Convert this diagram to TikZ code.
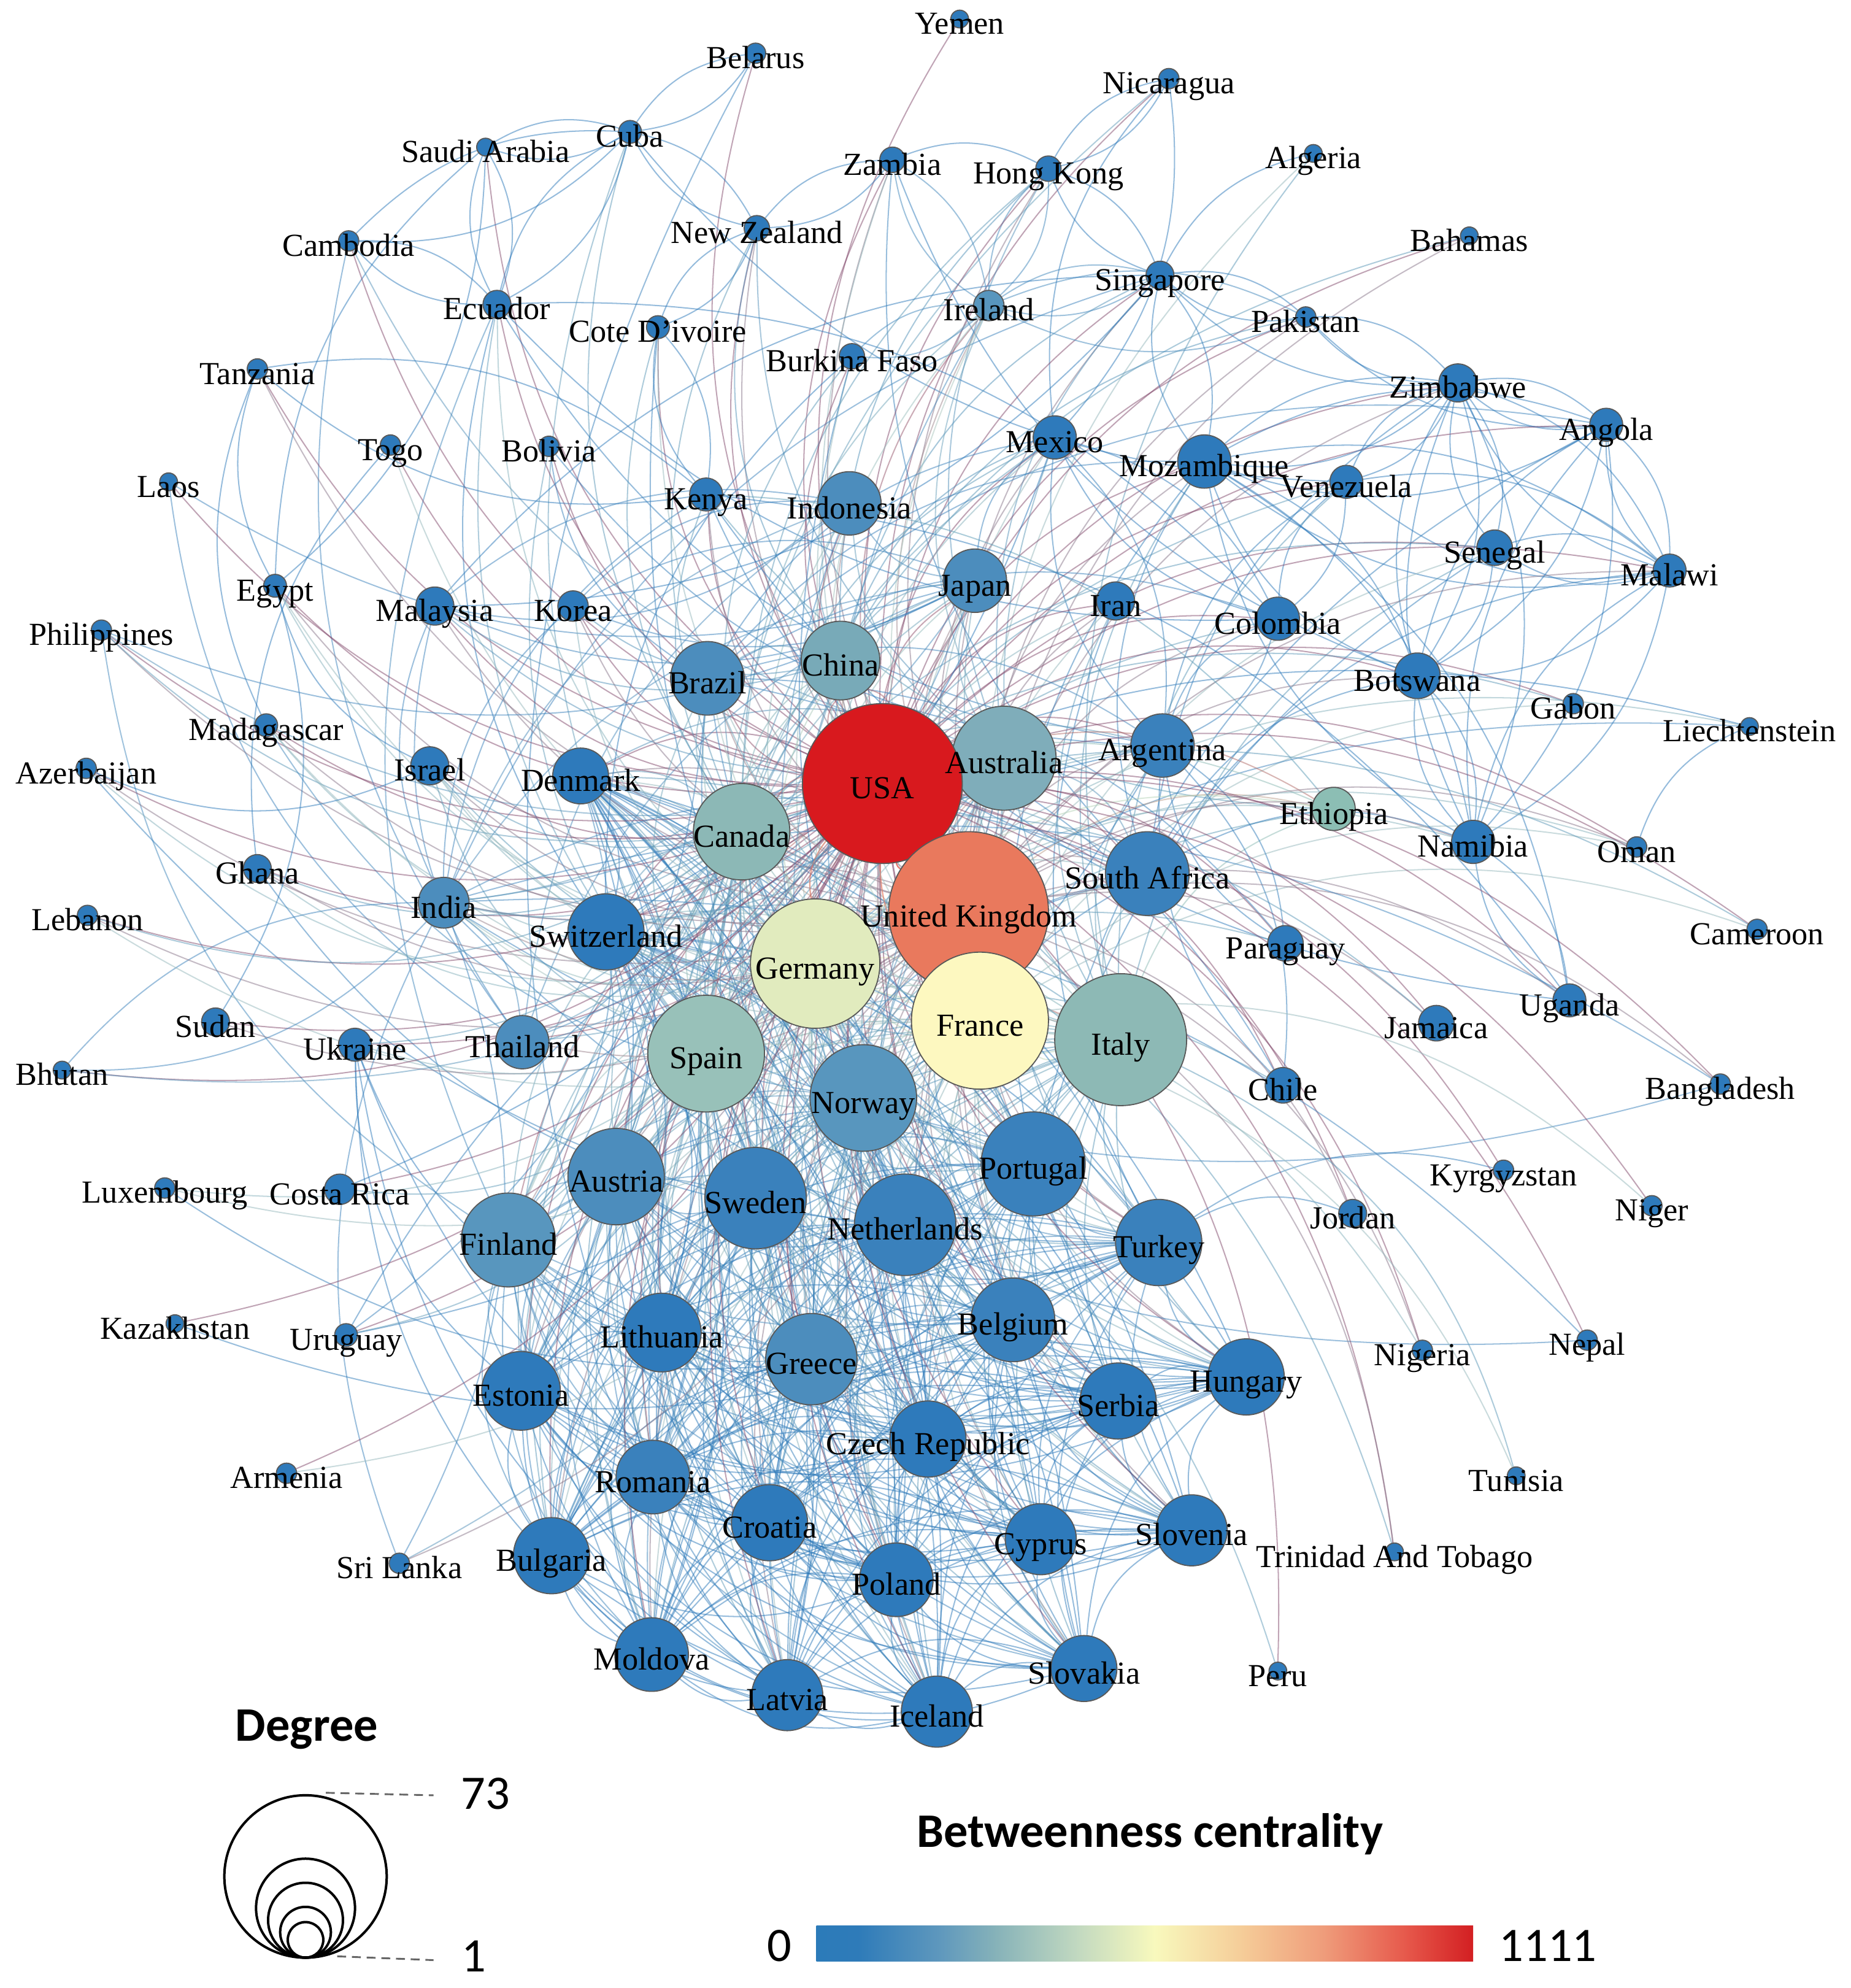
\documentclass[tikz,border=0pt]{standalone}
\usepackage{fontspec}
\setmainfont{Liberation Serif}
\newfontfamily\calfont{Carlito}
\pgfdeclarelayer{bg}\pgfdeclarelayer{edges}
\pgfsetlayers{bg,edges,main}
\definecolor{cb}{RGB}{46,122,187}
\definecolor{cb2}{RGB}{58,129,188}
\definecolor{cb3}{RGB}{76,141,189}
\definecolor{cb4}{RGB}{88,150,190}
\definecolor{cusa}{RGB}{216,25,30}
\definecolor{cuk}{RGB}{233,121,93}
\definecolor{cfra}{RGB}{253,248,192}
\definecolor{cger}{RGB}{225,235,190}
\definecolor{caus}{RGB}{127,173,186}
\definecolor{ccan}{RGB}{140,184,182}
\definecolor{cita}{RGB}{141,185,181}
\definecolor{cspa}{RGB}{152,193,185}
\definecolor{cchn}{RGB}{120,170,184}
\definecolor{ceth}{RGB}{140,190,180}
\newcommand\myedge[2]{\edef\myedgecol{\csname nc@#1\endcsname!50!\csname nc@#2\endcsname}\draw[lnk,draw=\myedgecol] (#1) to (#2);}
\def\nodelist{yem/757/15/7/cb/Yemen,blr/596/42/8/cb/Belarus,nic/922/62/8/cb/Nicaragua,sau/383/116/7/cb/Saudi Arabia,cub/497/104/9/cb/Cuba,zam/704/126/10/cb/Zambia,hkg/827/133/10/cb/Hong Kong,alg/1036/121/7/cb/Algeria,khm/275/190/8/cb/Cambodia,nzl/597/180/10/cb/New Zealand,bah/1159/186/7/cb/Bahamas,ecu/392/240/11/cb/Ecuador,sgp/915/217/11/cb/Singapore,civ/519/258/9/cb/Cote D'ivoire,irl/780/241/12/cb4/Ireland,pak/1030/250/8/cb/Pakistan,bfa/672/281/10/cb/Burkina Faso,tza/203/291/8/cb/Tanzania,zwe/1150/302/15/cb/Zimbabwe,ago/1267/335/13/cb/Angola,tgo/308/351/8/cb/Togo,bol/433/352/8/cb/Bolivia,mex/832/345/17/cb/Mexico,moz/950/364/21/cb/Mozambique,ven/1062/380/13/cb/Venezuela,lao/133/380/7/cb/Laos,ken/557/390/13/cb/Kenya,idn/670/397/25/cb3/Indonesia,sen/1179/432/14/cb/Senegal,mwi/1317/450/13/cb/Malawi,jpn/769/458/25/cb3/Japan,irn/880/474/15/cb/Iran,egy/217/462/9/cb/Egypt,mys/343/478/15/cb/Malaysia,kor/452/478/12/cb/Korea,col/1008/488/17/cb/Colombia,phl/80/497/8/cb/Philippines,chn/663/521/31/cchn/China,bra/558/535/29/cb3/Brazil,bwa/1118/533/18/cb/Botswana,gab/1241/555/8/cb/Gabon,lie/1380/573/7/cb/Liechtenstein,mdg/210/572/9/cb/Madagascar,aze/68/606/8/cb/Azerbaijan,isr/339/604/15/cb/Israel,dnk/458/612/22/cb/Denmark,aus/792/598/41/caus/Australia,arg/917/588/25/cb2/Argentina,eth/1052/638/17/ceth/Ethiopia,can/585/656/38/ccan/Canada,nam/1162/664/17/cb/Namibia,omn/1291/668/8/cb/Oman,gha/203/685/11/cb/Ghana,zaf/905/689/33/cb2/South Africa,ind/350/712/20/cb3/India,lbn/69/722/8/cb/Lebanon,usa/696/618/63/cusa/USA,gbr/764/719/63/cuk/United Kingdom,che/478/735/30/cb/Switzerland,cmr/1386/733/8/cb/Cameroon,deu/643/760/51/cger/Germany,pry/1014/744/14/cb/Paraguay,fra/773/805/54/cfra/France,ita/884/820/52/cita/Italy,uga/1238/789/13/cb/Uganda,sdn/170/806/11/cb/Sudan,ukr/280/824/13/cb/Ukraine,tha/412/822/21/cb3/Thailand,esp/557/831/46/cspa/Spain,jam/1133/807/14/cb/Jamaica,nor/681/866/42/cb4/Norway,chl/1012/856/14/cb/Chile,btn/49/844/7/cb/Bhutan,bgd/1357/855/8/cb/Bangladesh,prt/815/918/41/cb2/Portugal,aut/486/928/38/cb3/Austria,swe/596/945/40/cb2/Sweden,kgz/1186/923/8/cb/Kyrgyzstan,lux/130/937/8/cb/Luxembourg,cri/268/938/12/cb/Costa Rica,nld/714/966/40/cb2/Netherlands,jor/1067/957/11/cb/Jordan,ner/1303/951/8/cb/Niger,fin/401/978/37/cb4/Finland,tur/914/980/34/cb2/Turkey,kaz/138/1044/7/cb/Kazakhstan,ury/273/1053/9/cb/Uruguay,ltu/522/1051/31/cb/Lithuania,bgm/799/1041/33/cb2/Belgium,grc/640/1072/36/cb3/Greece,nga/1122/1065/8/cb/Nigeria,npl/1252/1057/8/cb/Nepal,est/411/1097/31/cb/Estonia,hun/983/1086/30/cb/Hungary,srb/882/1105/30/cb/Serbia,cze/732/1135/30/cb/Czech Republic,tun/1196/1164/7/cb/Tunisia,arm/226/1162/8/cb/Armenia,rou/515/1165/29/cb2/Romania,hrv/607/1201/30/cb/Croatia,cyp/821/1214/28/cb/Cyprus,svn/940/1207/28/cb/Slovenia,tto/1100/1224/7/cb/Trinidad And Tobago,lka/315/1233/8/cb/Sri Lanka,bgr/435/1227/30/cb/Bulgaria,pol/707/1246/29/cb/Poland,mda/514/1305/29/cb/Moldova,svk/855/1316/26/cb/Slovakia,per/1008/1318/7/cb/Peru,lva/621/1337/28/cb/Latvia,isl/739/1350/28/cb/Iceland}
\def\Elist{gbr,fra,deu,ita,esp,nor,prt,aut,swe,nld,fin,tur,ltu,bgm,grc,est,hun,srb,cze,rou,hrv,cyp,svn,bgr,pol,mda,svk,lva,isl,che,dnk}
\def\Alist{gbr,fra,deu,ita,esp,nor,swe,nld,fin,prt,aut,bgm,grc,pol,cze,isl,che,dnk,tur,hun}
\tikzset{
  nd/.style={circle,draw=black!65,line width=0.25pt,inner sep=0pt,outer sep=0pt},
  lbl/.style={font=\fontsize{7.2}{8}\selectfont,inner sep=0pt,anchor=base,text=black},
  lnk/.style={line width=0.28pt,draw opacity=0.5,bend right=24},
  legcirc/.style={circle,draw=black,line width=0.55pt,inner sep=0pt,outer sep=0pt},
  legtxt/.style={font=\calfont\fontsize{10.8}{12}\selectfont,inner sep=0pt,anchor=base},
  legbold/.style={font=\calfont\bfseries\fontsize{10.8}{12}\selectfont,inner sep=0pt,anchor=base},
  legdash/.style={draw=black!60,line width=0.4pt,dash pattern=on 2pt off 1.3pt}
}
\begin{document}
\begin{tikzpicture}[x=0.01cm,y=-0.01cm]
\begin{pgfonlayer}{bg}
\fill[white] (0,0) rectangle (1460,1568);
\end{pgfonlayer}
\useasboundingbox (0,0) rectangle (1460,1568);
% nodes
\foreach \n/\x/\y/\r/\c/\t in \nodelist {
  \node[nd,minimum size=\r*0.02cm,fill=\c] (\n) at (\x,\y) {};
  \expandafter\xdef\csname nc@\n\endcsname{\c}
}
% edges
\begin{pgfonlayer}{edges}
\foreach \a [count=\i] in \Elist {
  \foreach \b [count=\j] in \Elist {
    \ifnum\j>\i \myedge{\a}{\b}\fi
  }
}
\foreach \b in \Elist {\myedge{usa}{\b}\myedge{can}{\b}}
\foreach \b in \Alist {\myedge{aus}{\b}}
\foreach \a/\L in {yem/{usa},blr/{cub,usa,rou},nic/{hkg,usa,mex,esp},sau/{cub,ecu,egy,usa},
  cub/{blr,sau,khm,ecu,nzl,esp,can,ven},zam/{nzl,usa,gbr,irl,zaf,bwa,fra},
  hkg/{zam,irl,usa,gbr,chn,aus,sgp,nic,can},alg/{fra,ita,sgp},khm/{cub,ecu,tha,usa,aus},
  nzl/{zam,cub,civ,usa,gbr,aus,can,chn},bah/{usa,gbr,can},
  ecu/{cub,sau,khm,usa,esp,col,arg,deu,che,fin},sgp/{hkg,irl,usa,gbr,aus,chn,ind,mys,pak,moz,zwe},
  civ/{nzl,usa,fra,can,bgm,ken},irl/{zam,hkg,sgp,usa,gbr,aus,can,fra,deu,nld,pak,bfa},
  pak/{sgp,irl,usa,gbr,chn,zwe,ago},bfa/{usa,fra,can,bgm,che,irl},tza/{usa,gbr,ken,egy,mdg},
  zwe/{ago,moz,bwa,sen,nam,mwi,zaf,usa,gbr,ven,pak},ago/{zwe,mwi,nam,bwa,moz,bra,prt,usa},
  tgo/{fra,usa,gha},bol/{usa,esp,arg,bra},mex/{usa,can,esp,ita,gbr,deu,col,arg,bra,chn,jpn,nic,fra},
  moz/{zwe,zaf,bwa,nam,mwi,usa,gbr,prt,ita,ago,sgp,bra},ven/{col,usa,esp,arg,zwe,mwi,ita},
  lao/{tha,usa,jpn},ken/{usa,gbr,uga,tza,ind,zaf,can,civ,eth},
  idn/{usa,gbr,aus,jpn,chn,deu,mys,nld,fra,tha,ind,kor},sen/{fra,usa,can,bgm,zwe,mwi,ita},
  mwi/{zwe,ago,moz,nam,gbr,usa,zaf,sen,ven},jpn/{usa,chn,kor,aus,gbr,deu,fra,ita,ind,tha,can,esp},
  irn/{usa,gbr,deu,ita,fra,tur},egy/{usa,gbr,fra,deu,sau,isr},mys/{usa,gbr,aus,sgp,chn,jpn,ind,idn,tha},
  kor/{usa,jpn,chn,gbr,deu,ind},col/{usa,esp,mex,arg,ven,bra,gbr,ecu},phl/{usa,jpn,aus,gbr,can,fin},
  bwa/{zwe,nam,zaf,moz,mwi,ago,gbr,usa,sen},gab/{fra,usa,can},lie/{che,aut,deu,omn},
  mdg/{fra,usa,gbr,deu,nor},aze/{tur,usa,gbr,deu,isr},isr/{usa,gbr,can,deu,fra,ita,esp},
  arg/{usa,gbr,esp,ita,bra,mex,col,chl,pry,ury,can,deu,fra},eth/{usa,gbr,ken,ita,can,deu,swe},
  nam/{zwe,ago,bwa,zaf,moz,mwi,deu,gbr,uga},omn/{usa,gbr,deu,fra},gha/{usa,gbr,can,deu,nld},
  zaf/{usa,gbr,aus,can,deu,fra,ita,nld,swe,nor,ind},ind/{usa,gbr,aus,can,deu,fra,jpn,chn,btn,npl,bgd,lka},
  lbn/{usa,fra,can,gbr},cmr/{fra,usa,can},pry/{usa,arg,bra,esp},uga/{usa,gbr,ken,nam,moz},
  sdn/{usa,gbr,egy},ukr/{usa,can,deu,pol,ltu,lva,est,mda},tha/{usa,jpn,chn,aus,gbr,ind},
  jam/{usa,gbr,can},chl/{usa,arg,esp,bra},btn/{ind,usa,aus},bgd/{usa,gbr,ind},kgz/{tur,usa},
  lux/{bgm,fra,deu},cri/{usa,esp,mex},jor/{usa,gbr,tur},ner/{fra,usa},kaz/{tur,usa},
  ury/{arg,bra,esp,usa},nga/{usa,gbr,deu},npl/{usa,ind},tun/{fra,ita},arm/{usa,fra},
  tto/{usa,gbr,can},lka/{ind,aus,gbr},per/{usa,esp},
  chn/{usa,gbr,aus,can,deu,fra,ita,esp,bra,nld,swe},bra/{usa,gbr,can,deu,fra,ita,esp,prt,nld},
  usa/{gbr,aus,can,chn,fra,deu}} {
  \foreach \b in \L {\myedge{\a}{\b}}
}
\end{pgfonlayer}
% labels
\foreach \n/\x/\y/\r/\c/\t in \nodelist {
  \node[lbl] (t\n) at (\x,\y+12) {\t};
}
% degree legend
\node[legbold] (degt) at (242,1373) {Degree};
\node[legcirc,minimum size=1.28cm] (lc1) at (241,1480) {};
\node[legcirc,minimum size=0.78cm] (lc2) at (241,1505) {};
\node[legcirc,minimum size=0.59cm] (lc3) at (241,1514.5) {};
\node[legcirc,minimum size=0.40cm] (lc4) at (241,1524) {};
\node[legcirc,minimum size=0.28cm] (lc5) at (241,1530) {};
\coordinate (da1) at (257,1414);
\coordinate (da2) at (342,1416);
\coordinate (db1) at (266,1543);
\coordinate (db2) at (342,1546);
\draw[legdash] (da1) -- (da2);
\draw[legdash] (db1) -- (db2);
\node[legtxt] (l73) at (383,1427) {73};
\node[legtxt] (l1) at (374,1555) {1};
% betweenness legend
\node[legbold] (bct) at (907,1457) {Betweenness centrality};
\shade[left color={rgb,255:red,44;green,123;blue,185},right color={rgb,255:red,46;green,123;blue,185}] (644,1519) rectangle (677,1547);
\shade[left color={rgb,255:red,46;green,123;blue,185},right color={rgb,255:red,95;green,152;blue,189}] (676.5,1519) rectangle (742,1547);
\shade[left color={rgb,255:red,95;green,152;blue,189},right color={rgb,255:red,134;green,178;blue,185}] (741.5,1519) rectangle (785.5,1547);
\shade[left color={rgb,255:red,134;green,178;blue,185},right color={rgb,255:red,194;green,217;blue,192}] (785,1519) rectangle (850.5,1547);
\shade[left color={rgb,255:red,194;green,217;blue,192},right color={rgb,255:red,248;green,249;blue,189}] (850,1519) rectangle (911,1547);
\shade[left color={rgb,255:red,248;green,249;blue,189},right color={rgb,255:red,245;green,204;blue,152}] (910.5,1519) rectangle (980.5,1547);
\shade[left color={rgb,255:red,245;green,204;blue,152},right color={rgb,255:red,239;green,155;blue,122}] (980,1519) rectangle (1045.5,1547);
\shade[left color={rgb,255:red,239;green,155;blue,122},right color={rgb,255:red,230;green,87;blue,74}] (1045,1519) rectangle (1110.5,1547);
\shade[left color={rgb,255:red,230;green,87;blue,74},right color={rgb,255:red,211;green,31;blue,34}] (1110,1519) rectangle (1162,1547);
\node[legtxt] (l0) at (615,1547) {0};
\node[legtxt] (l1111) at (1221,1547) {1111};
\end{tikzpicture}
\end{document}
